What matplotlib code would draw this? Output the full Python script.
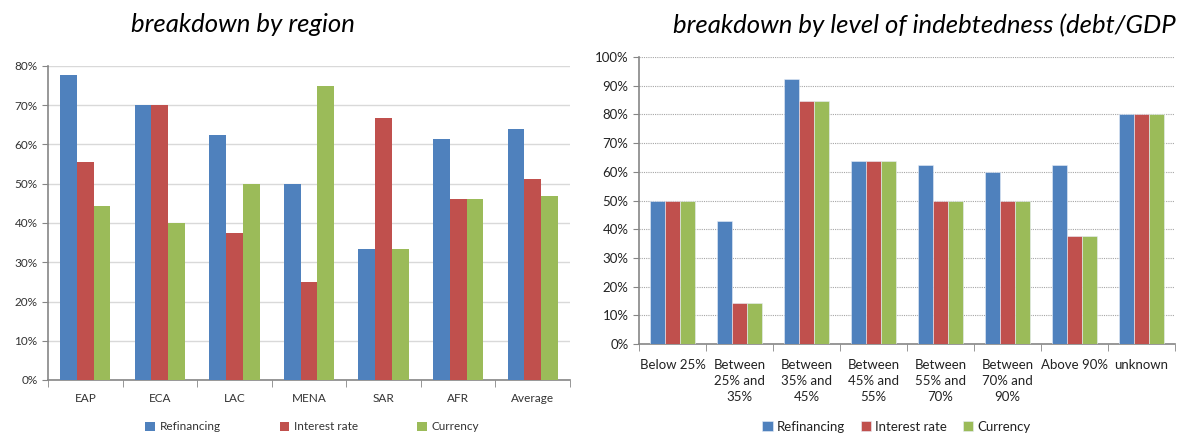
import numpy as np
import matplotlib.pyplot as plt
from matplotlib.ticker import PercentFormatter

plt.rcParams['font.family'] = ['Lato', 'DejaVu Sans']

# breakdown by region
regions = ['EAP', 'ECA', 'LAC', 'MENA', 'SAR', 'AFR', 'Average']
region_refinancing = [77.8, 70.0, 62.5, 50.0, 33.3, 61.5, 63.9]
region_interest = [55.6, 70.0, 37.5, 25.0, 66.7, 46.2, 51.1]
region_currency = [44.4, 40.0, 50.0, 75.0, 33.3, 46.2, 46.8]

# breakdown by level of indebtedness
debt_levels = ['Below 25%', 'Between\n25% and\n35%', 'Between\n35% and\n45%',
               'Between\n45% and\n55%', 'Between\n55% and\n70%',
               'Between\n70% and\n90%', 'Above 90%', 'unknown']
debt_refinancing = [50.0, 42.9, 92.3, 63.6, 62.5, 60.0, 62.5, 80.0]
debt_interest = [50.0, 14.3, 84.6, 63.6, 50.0, 50.0, 37.5, 80.0]
debt_currency = [50.0, 14.3, 84.6, 63.6, 50.0, 50.0, 37.5, 80.0]

series_names = ['Refinancing', 'Interest rate', 'Currency']
colors = ['#4F81BD', '#C0504D', '#9BBB59']
AXIS_GREY = '#868686'


def draw_bars(ax, cats, series, bar_w, edge):
    x = np.arange(len(cats))
    for k, (vals, col, name) in enumerate(zip(series, colors, series_names)):
        ax.bar(x + (k - 1) * bar_w, vals, bar_w, color=col, label=name,
               edgecolor=edge, linewidth=0.4 if edge != 'none' else 0, zorder=3)
    ax.set_xlim(-0.5, len(cats) - 0.5)
    ax.set_xticks(x)
    ax.set_xticklabels(cats)
    ax.set_xticks(np.arange(len(cats) + 1) - 0.5, minor=True)
    ax.tick_params(axis='x', which='major', length=0, pad=8)
    ax.tick_params(axis='x', which='minor', length=5, color=AXIS_GREY, direction='out')
    ax.tick_params(axis='y', length=4, color=AXIS_GREY, direction='out')
    ax.yaxis.set_major_formatter(PercentFormatter(decimals=0))
    for s in ['top', 'right']:
        ax.spines[s].set_visible(False)
    for s in ['left', 'bottom']:
        ax.spines[s].set_color(AXIS_GREY)
        ax.spines[s].set_linewidth(1.2)


fig = plt.figure(figsize=(11.81, 4.33), dpi=100)

# left chart
ax1 = fig.add_axes([48 / 1181, 1 - 380 / 433, 522 / 1181, 314 / 433])
draw_bars(ax1, regions, [region_refinancing, region_interest, region_currency],
          0.225, 'none')
ax1.set_ylim(0, 80)
ax1.set_yticks(np.arange(0, 81, 10))
ax1.grid(axis='y', color='#d9d9d9', linewidth=1.0, zorder=0)
ax1.tick_params(labelsize=8.5, labelcolor='#333333')
ax1.tick_params(axis='x', which='major', pad=9)
ax1.legend(loc='center', bbox_to_anchor=(0.506, -47 / 314), ncol=3, frameon=False,
           fontsize=8.5, handlelength=0.8, handleheight=0.8, handletextpad=0.4,
           columnspacing=5.0, labelcolor='#333333', borderpad=0)
fig.text(243 / 1181, 1 - 25 / 433, 'breakdown by region', style='italic',
         fontsize=18.5, ha='center', va='center')

# right chart
ax2 = fig.add_axes([639 / 1181, 1 - 344 / 433, 536 / 1181, 287 / 433])
draw_bars(ax2, debt_levels, [debt_refinancing, debt_interest, debt_currency],
          0.225, '#e8eef8')
ax2.set_ylim(0, 100)
ax2.set_yticks(np.arange(0, 101, 10))
ax2.grid(axis='y', color='#a6a6a6', linestyle=(0, (1, 1)), linewidth=0.8, zorder=0)
ax2.tick_params(labelsize=9.5, labelcolor='#222222')
ax2.tick_params(axis='x', which='major', pad=11)
for lbl in ax2.get_xticklabels():
    lbl.set_linespacing(1.4)
ax2.legend(loc='center', bbox_to_anchor=(0.48, -83 / 287), ncol=3, frameon=False,
           fontsize=9.5, handlelength=0.8, handleheight=0.8, handletextpad=0.3,
           columnspacing=1.2, labelcolor='#222222', borderpad=0)
fig.text(673 / 1181, 1 - 25 / 433, 'breakdown by level of indebtedness (debt/GDP',
         style='italic', fontsize=18.5, ha='left', va='center')

fig.savefig('out.png', dpi=100)
